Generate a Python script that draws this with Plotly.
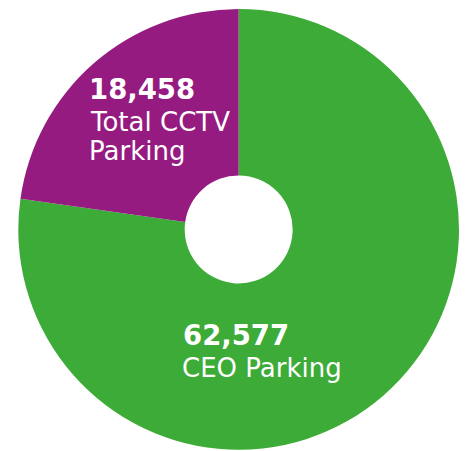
import plotly.graph_objects as go

labels = ["CEO Parking", "Total CCTV Parking"]
values = [62577, 18458]
colors = ["#3DAB37", "#951B80"]
label_lines = {"CEO Parking": ["CEO Parking"], "Total CCTV Parking": ["Total CCTV", "Parking"]}

W, H = 468, 451

fig = go.Figure(go.Pie(
    labels=labels,
    values=values,
    hole=0.245,
    sort=False,
    direction="clockwise",
    rotation=0,
    marker=dict(colors=colors, line=dict(width=0)),
    textinfo="none",
    hoverinfo="label+value",
    domain=dict(x=[18.3 / W, 459 / W], y=[(H - 449.8) / H, (H - 9) / H]),
))

def px(x):
    return x / W

def py(y):
    return 1 - y / H

font_fam = "DejaVu Sans"
NUM, LAB = 27.5, 26
ann = []
# CCTV (purple) label
ann.append(dict(x=px(88.5), y=py(88.5), text="<b>" + f"{values[1]:,}" + "</b>",
                font=dict(family=font_fam, size=NUM, color="white")))
ann.append(dict(x=px(90), y=py(122), text=label_lines[labels[1]][0],
                font=dict(family=font_fam, size=LAB, color="white")))
ann.append(dict(x=px(88.5), y=py(151), text=label_lines[labels[1]][1],
                font=dict(family=font_fam, size=LAB, color="white")))
# CEO (green) label
ann.append(dict(x=px(183), y=py(335.2), text="<b>" + f"{values[0]:,}" + "</b>",
                font=dict(family=font_fam, size=NUM, color="white")))
ann.append(dict(x=px(181.5), y=py(368), text=label_lines[labels[0]][0],
                font=dict(family=font_fam, size=LAB, color="white")))
for a in ann:
    a.update(xref="paper", yref="paper", xanchor="left", yanchor="middle",
             showarrow=False, align="left", borderpad=0, borderwidth=0)

fig.update_layout(
    width=W, height=H,
    margin=dict(l=0, r=0, t=0, b=0),
    paper_bgcolor="white",
    plot_bgcolor="white",
    showlegend=False,
    annotations=ann,
)

fig.write_html("out.html", config={"displayModeBar": False},
               post_script="document.body.style.margin='0';")
